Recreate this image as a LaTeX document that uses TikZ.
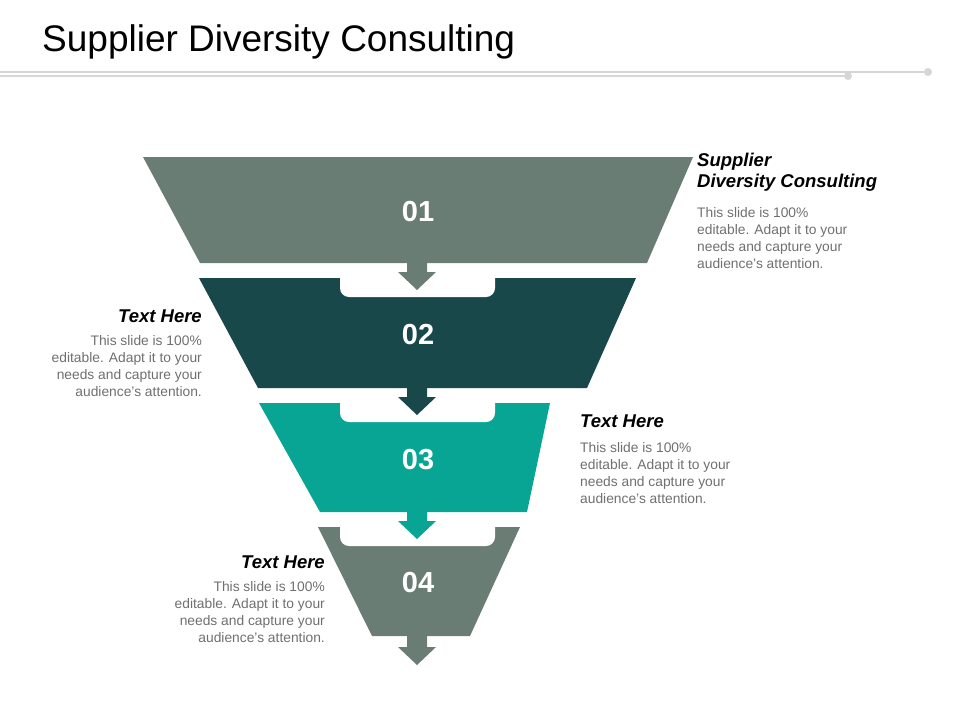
\documentclass[tikz,border=0pt]{standalone}
\usepackage{fontspec}
\setmainfont{Liberation Sans}
\usetikzlibrary{positioning}
\definecolor{bandgray}{HTML}{6A7D75}
\definecolor{banddark}{HTML}{18484A}
\definecolor{bandteal}{HTML}{08A595}
\definecolor{bodygray}{HTML}{6F6F6F}
\definecolor{rulegray}{HTML}{D6D6D6}
\tikzset{
  num/.style={text=white, font=\fontsize{29}{29}\selectfont\bfseries},
  head/.style={inner sep=0pt, font=\fontsize{18.5}{21}\selectfont\bfseries\itshape},
  body/.style={inner sep=0pt, text=bodygray, font=\fontsize{13.8}{17}\selectfont},
}
\begin{document}
\begin{tikzpicture}[x=1pt,y=-1pt]
      \useasboundingbox (0,0) rectangle (960,720);

      % title and rules
      \node [anchor=base west, inner sep=0pt, font=\fontsize{37}{37}\selectfont] (title) at (42,51) {Supplier Diversity Consulting};
      \draw [rulegray, line width=1.5pt] (0,76) -- (848,76);
      \draw [rulegray, line width=1.5pt] (0,72) -- (928,72);
      \fill [rulegray] (848,76) circle (4);
      \fill [rulegray] (928,72) circle (4);

      % bands
      \fill [bandgray] (143,157) -- (693,157) -- (647,263) -- (200,263) -- cycle;
      \fill [banddark] (199,278) -- (636,278) -- (587,388) -- (258,388) -- cycle;
      \fill [bandteal] (259,403) -- (550,403) -- (527,512) -- (320,512) -- cycle;
      \fill [bandgray] (318,527) -- (520,527) -- (470,636) -- (372,636) -- cycle;

      % notches
      \foreach \y in {278,403,527}
        \fill [white, rounded corners=9pt] (340,\y-14) -- (340,\y+19) -- (495,\y+19) -- (495,\y-14) -- cycle;

      % arrows
      \fill [bandgray] (407,263) -- (427,263) -- (427,272) -- (436,272) -- (417,290) -- (398,272) -- (407,272) -- cycle;
      \fill [banddark] (407,388) -- (427,388) -- (427,397) -- (436,397) -- (417,415) -- (398,397) -- (407,397) -- cycle;
      \fill [bandteal] (407,512) -- (427,512) -- (427,521) -- (436,521) -- (417,539) -- (398,521) -- (407,521) -- cycle;
      \fill [bandgray] (407,636) -- (427,636) -- (427,647) -- (436,647) -- (417,665) -- (398,647) -- (407,647) -- cycle;

      % numbers
      \node [num] (n1) at (418,212) {01};
      \node [num] (n2) at (418,335) {02};
      \node [num] (n3) at (418,460) {03};
      \node [num] (n4) at (418,583) {04};

      % text blocks
      \node [head, anchor=north west, align=left] (h1) at (697,153) {Supplier\\Diversity Consulting};
      \node [body, anchor=north west, align=left] (b1) at (697,207) {This slide is 100\%\\editable. Adapt it to your\\needs and capture your\\audience's attention.};

      \node [head, anchor=north east] (h2) at (202,310) {Text Here};
      \node [body, anchor=north east, align=right] (b2) at (202,335) {This slide is 100\%\\editable. Adapt it to your\\needs and capture your\\audience's attention.};

      \node [head, anchor=north west] (h3) at (580,415) {Text Here};
      \node [body, anchor=north west, align=left] (b3) at (580,442) {This slide is 100\%\\editable. Adapt it to your\\needs and capture your\\audience's attention.};

      \node [head, anchor=north east] (h4) at (325,556) {Text Here};
      \node [body, anchor=north east, align=right] (b4) at (325,581) {This slide is 100\%\\editable. Adapt it to your\\needs and capture your\\audience's attention.};

\end{tikzpicture}
\end{document}
